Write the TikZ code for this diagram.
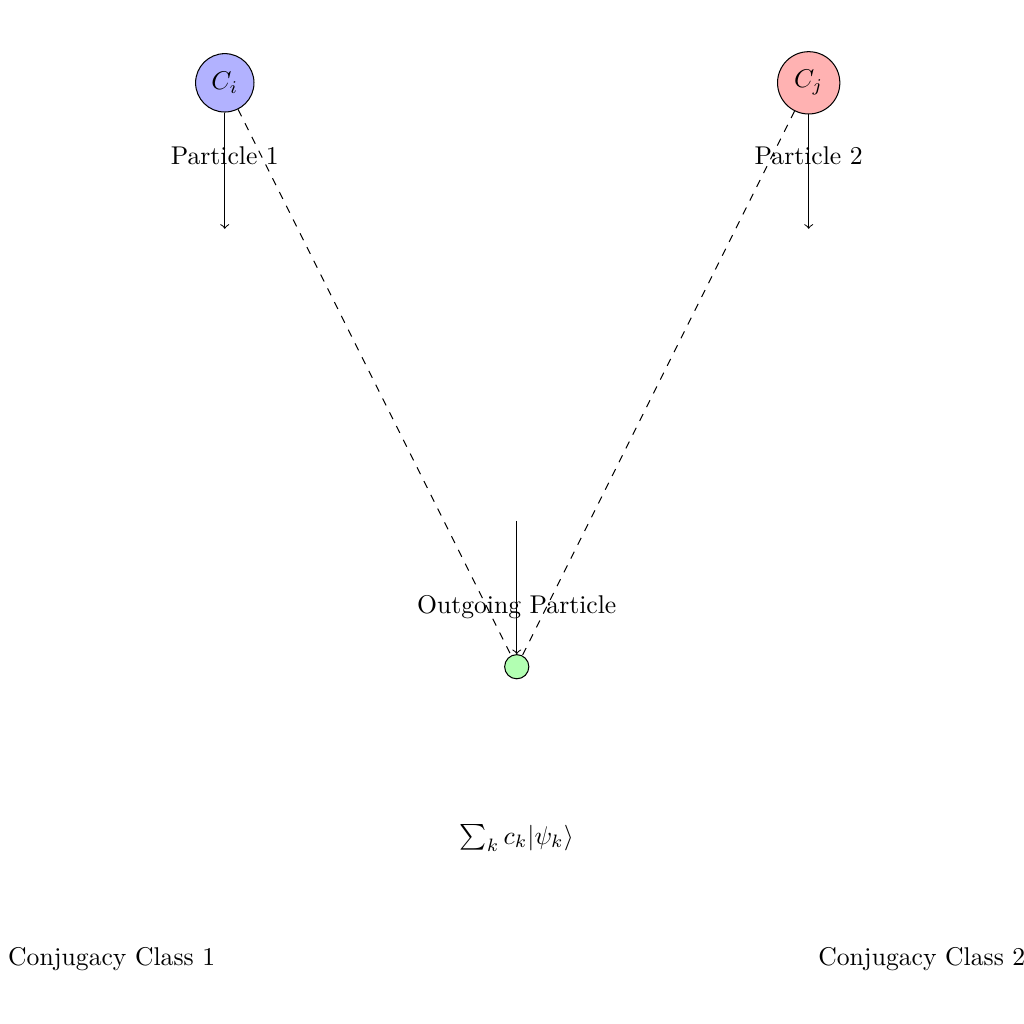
\documentclass[tikz,border=0pt]{standalone}
\usepackage{amsmath}
\usetikzlibrary{arrows, positioning}

\begin{document}
\begin{tikzpicture}
    \useasboundingbox (-7.08,-4.895) rectangle (6.95,9.135);
    \tikzset{class/.style={circle, draw, minimum size=0.8cm}}

    \node[class, fill=blue!30] (ci) at (-4, 8) {$C_i$};
    \node[class, fill=red!30] (cj) at (4, 8) {$C_j$};
    \node[circle, draw, fill=green!30, minimum size=0.3cm] (out) at (0, 0) {};

    \coordinate (pa) at (-4, 6);
    \coordinate (pb) at (4, 6);
    \coordinate (po) at (0, 2);

    \node (lpa) at (-4, 7) {Particle 1};
    \node (lpb) at (4, 7) {Particle 2};
    \node (lpo) at (0, 0.82) {Outgoing Particle};
    \node (sum) at (0, -2.35) {$\sum_k c_k|\psi_k\rangle$};
    \node (cca) at (-5.55, -4) {Conjugacy Class 1};
    \node (ccb) at (5.55, -4) {Conjugacy Class 2};

    \draw
    (ci) edge[->] (pa)
    (cj) edge[->] (pb)
    (po) edge[->] (out)
    (ci) edge[dashed] (out)
    (cj) edge[dashed] (out);
\end{tikzpicture}
\end{document}
